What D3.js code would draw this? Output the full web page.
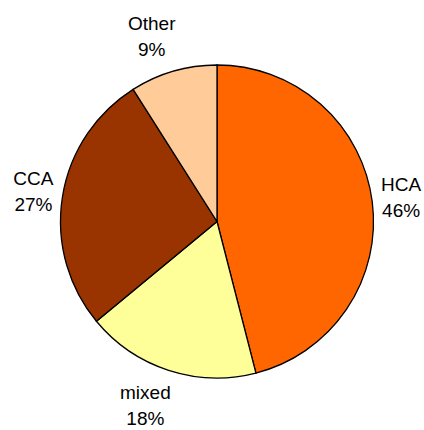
<html>
<head>
<meta charset="UTF-8">
<script src="https://cdn.jsdelivr.net/npm/d3@7"></script>
<style>
  body { margin: 0; background: #fff; }
  path.slice { stroke: #000; stroke-width: 1.3; }
  text.lbl { font-family: "Liberation Sans", Arial, sans-serif; font-size: 19px; fill: #000; text-anchor: middle; }
</style>
</head>
<body>
<div id="chart"></div>
<script>
var categories = ["HCA", "mixed", "CCA", "Other"];
var values = [46, 18, 27, 9];
var colors = ["#ff6600", "#ffff99", "#993300", "#ffcc99"];

(function(d3) {
  var width = 424, height = 430;
  var cx = 217, cy = 221.5, radius = 156.5;

  var svg = d3.select("#chart").append("svg")
    .attr("width", width).attr("height", height);

  var g = svg.append("g").attr("transform", "translate(" + cx + "," + cy + ")");

  var pie = d3.pie().sort(null).value(function(d) { return d.v; });
  var arc = d3.arc().innerRadius(0).outerRadius(radius);

  var data = categories.map(function(c, i) { return { name: c, v: values[i], color: colors[i] }; });
  var total = d3.sum(values);
  var arcs = pie(data);

  g.selectAll("path.slice")
    .data(arcs).enter()
    .append("path")
    .attr("class", "slice")
    .attr("fill", function(d) { return d.data.color; })
    .attr("d", arc);

  // labels outside the pie, text box pushed outward from the slice middle
  var gapX = 9, gapY = 13, lineH = 26;
  arcs.forEach(function(d) {
    var a = (d.startAngle + d.endAngle) / 2;
    var sx = Math.sin(a), sy = -Math.cos(a);
    var t = g.append("text").attr("class", "lbl");
    t.append("tspan").attr("x", 0).attr("dy", 0).text(d.data.name);
    t.append("tspan").attr("x", 0).attr("dy", lineH).text(Math.round(d.data.v / total * 100) + "%");
    var bb = t.node().getBBox();
    var w = bb.width, h = bb.height;
    // small slices near the top/bottom sit a bit further round, like Excel does
    var px = sx * (radius + gapX + w / 2) - (Math.abs(sx) < 0.5 ? Math.sign(sx) * -w / 4 : 0);
    var py = sy * (radius + gapY + h / 2);
    var dx = px - (bb.x + w / 2);
    var dy = py - (bb.y + h / 2);
    t.attr("transform", "translate(" + dx + "," + dy + ")");
  });
})(window.d3);
</script>
</body>
</html>
